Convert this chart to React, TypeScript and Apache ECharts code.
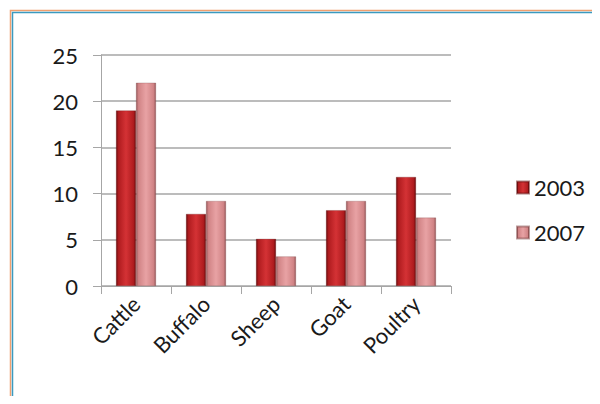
import React, { useEffect, useRef } from "react";
import * as echarts from "echarts";

const categories = ["Cattle", "Buffalo", "Sheep", "Goat", "Poultry"];
const values2003 = [19, 7.8, 5.1, 8.2, 11.8];
const values2007 = [22, 9.2, 3.2, 9.2, 7.4];
const seriesNames = ["2003", "2007"];

const FONT = "Lato";

function barGradient(edge: string, mid: string, light: string) {
  return new echarts.graphic.LinearGradient(0, 0, 1, 0, [
    { offset: 0, color: edge },
    { offset: 0.12, color: mid },
    { offset: 0.5, color: light },
    { offset: 0.88, color: mid },
    { offset: 1, color: edge },
  ]);
}

export default function App() {
  const ref = useRef<HTMLDivElement>(null);
  useEffect(() => {
    if (!ref.current) return;
    const chart = echarts.init(ref.current, null, { renderer: "svg" });
    const axisGray = "#a6a6a6";
    chart.setOption({
      animation: false,
      backgroundColor: "#ffffff",
      graphic: [
        {
          type: "rect",
          shape: { x: 10.5, y: 10.5, width: 700, height: 600 },
          style: { fill: "none", stroke: "#f0a070", lineWidth: 1.5 },
          silent: true,
        },
        {
          type: "rect",
          shape: { x: 12.5, y: 12.5, width: 700, height: 600 },
          style: { fill: "none", stroke: "#3a9ac0", lineWidth: 1.5 },
          silent: true,
        },
      ],
      grid: { left: 101, top: 55, width: 350, height: 231, containLabel: false },
      legend: {
        orient: "vertical",
        left: 511,
        top: 170,
        icon: "rect",
        itemWidth: 12,
        itemHeight: 12,
        itemGap: 20,
        data: seriesNames,
        textStyle: { fontFamily: FONT, fontSize: 22, color: "#1a1a1a", lineHeight: 25 },
      },
      xAxis: {
        type: "category",
        data: categories,
        axisLine: { lineStyle: { color: axisGray, width: 1 } },
        axisTick: { show: true, length: 8, lineStyle: { color: axisGray } },
        axisLabel: {
          rotate: 45,
          margin: 14,
          fontFamily: FONT,
          fontSize: 22,
          color: "#1a1a1a",
          interval: 0,
        },
      },
      yAxis: {
        type: "value",
        min: 0,
        max: 25,
        interval: 5,
        axisLine: { show: true, lineStyle: { color: axisGray, width: 1 } },
        axisTick: { show: true, length: 8, lineStyle: { color: axisGray } },
        splitLine: { show: true, lineStyle: { color: axisGray, width: 1.5 } },
        axisLabel: { margin: 23, fontFamily: FONT, fontSize: 22, color: "#1a1a1a" },
      },
      series: [
        {
          name: seriesNames[0],
          type: "bar",
          data: values2003,
          barWidth: 20,
          barGap: "0%",
          itemStyle: {
            color: barGradient("#6e0a0c", "#b01c1f", "#d43235"),
            borderColor: "rgba(90,10,10,0.5)",
            borderWidth: 0.5,
          },
        },
        {
          name: seriesNames[1],
          type: "bar",
          data: values2007,
          barWidth: 20,
          barGap: "0%",
          itemStyle: {
            color: barGradient("#9a5a5c", "#d18486", "#e8a2a4"),
            borderColor: "rgba(120,60,60,0.5)",
            borderWidth: 0.5,
          },
        },
      ],
    });
    return () => chart.dispose();
  }, []);
  return <div ref={ref} style={{ width: 600, height: 404, margin: -8 }} />;
}
